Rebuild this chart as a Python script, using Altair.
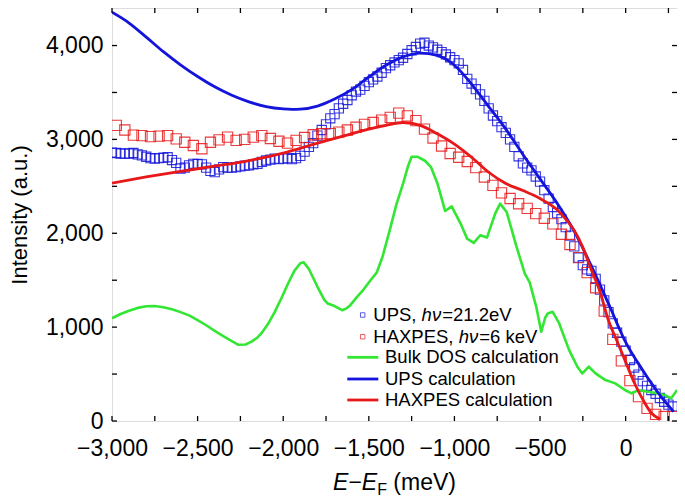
import altair as alt
import pandas as pd

# ---------------- data ----------------
ups_x = [-3000, -2975, -2950, -2925, -2900, -2875, -2850, -2825, -2800, -2775,
         -2750, -2725, -2700, -2675, -2650, -2625, -2600, -2575, -2550, -2525,
         -2500, -2475, -2450, -2425, -2400, -2375, -2350, -2325, -2300, -2275,
         -2250, -2225, -2200, -2175, -2150, -2125, -2100, -2075, -2050, -2025,
         -2000, -1975, -1950, -1925, -1900, -1875, -1850, -1825, -1800, -1775,
         -1750, -1725, -1700, -1675, -1650, -1625, -1600, -1575, -1550, -1525,
         -1500, -1475, -1450, -1425, -1400, -1375, -1350, -1325, -1300, -1275,
         -1250, -1225, -1200, -1175, -1150, -1125, -1100, -1075, -1050, -1025,
         -1000, -975, -950, -925, -900, -875, -850, -825, -800, -775,
         -750, -725, -700, -675, -650, -625, -600, -575, -550, -525,
         -500, -475, -450, -425, -400, -375, -350, -325, -300, -275,
         -250, -225, -200, -175, -150, -125, -100, -75, -50, -25,
         0, 25, 50, 75, 100, 125, 150, 175, 200, 225,
         250, 275]
ups_y = [2860, 2855, 2850, 2848, 2850, 2855, 2840, 2830, 2815, 2800,
         2795, 2800, 2805, 2810, 2780, 2750, 2690, 2700, 2723, 2740,
         2738, 2734, 2700, 2665, 2652, 2680, 2705, 2700, 2699, 2705,
         2713, 2720, 2725, 2734, 2740, 2760, 2775, 2785, 2795, 2790,
         2795, 2800, 2790, 2800, 2825, 2870, 2920, 2960, 3040, 3100,
         3160, 3225, 3270, 3330, 3380, 3420, 3470, 3510, 3530, 3570,
         3610, 3640, 3670, 3710, 3760, 3790, 3820, 3845, 3870, 3910,
         3950, 3985, 4020, 4030, 4000, 3980, 3955, 3930, 3905, 3875,
         3845, 3810, 3740, 3645, 3595, 3535, 3480, 3410, 3330, 3255,
         3195, 3130, 3070, 3000, 2920, 2820, 2745, 2700, 2670, 2605,
         2550, 2460, 2370, 2280, 2215, 2150, 2065, 1975, 1860, 1740,
         1660, 1615, 1600, 1515, 1400, 1285, 1160, 1040, 940, 845,
         750, 650, 570, 495, 425, 375, 330, 290, 245, 205,
         175, 155]

hax_x = [-2975, -2925, -2875, -2825, -2775, -2725, -2675, -2625, -2575, -2525,
         -2475, -2425, -2375, -2325, -2275, -2225, -2175, -2125, -2075, -2025,
         -1975, -1925, -1875, -1825, -1775, -1725, -1675, -1625, -1575, -1525,
         -1475, -1425, -1375, -1325, -1275, -1225, -1175, -1125, -1075, -1025,
         -975, -925, -875, -825, -775, -725, -675, -625, -575, -525,
         -475, -425, -375, -325, -275, -225, -175, -125, -75, -25,
         25, 75, 125, 175, 225, 275]
hax_y = [3150, 3100, 3045, 3040, 3030, 3035, 3040, 3005, 2970, 2935,
         2900, 2970, 2995, 3025, 2990, 3000, 3025, 3040, 3010, 2980,
         2960, 2990, 3020, 3050, 3060, 3062, 3078, 3100, 3130, 3160,
         3180, 3205, 3235, 3280, 3250, 3200, 3110, 3015, 2930, 2850,
         2810, 2765, 2700, 2600, 2510, 2430, 2370, 2315, 2265, 2210,
         2160, 2100, 1990, 1880, 1740, 1580, 1420, 1170, 870, 640,
         430, 260, 135, 70, 48, 46]

dos_x = [-3000, -2950, -2900, -2850, -2800, -2750, -2700, -2650, -2600, -2550,
         -2500, -2450, -2400, -2350, -2300, -2262, -2220, -2185, -2150, -2127,
         -2090, -2050, -2010, -1973, -1935, -1900, -1880, -1850, -1800, -1760,
         -1740, -1700, -1656, -1630, -1608, -1570, -1531, -1490, -1454, -1420,
         -1378, -1340, -1300, -1270, -1250, -1214, -1170, -1137, -1099, -1054,
         -1016, -964, -926, -887, -849, -810, -762, -733, -695, -637,
         -589, -561, -522, -493, -470, -455, -426, -388, -330, -282,
         -253, -215, -176, -118, -61, -4, 35, 74, 131, 189,
         228, 266, 300]
dos_y = [1095, 1140, 1175, 1205, 1222, 1225, 1212, 1190, 1160, 1125,
         1075, 1020, 960, 905, 850, 812, 815, 845, 890, 935,
         1030, 1160, 1310, 1460, 1600, 1680, 1690, 1620, 1430, 1290,
         1252, 1225, 1180, 1200, 1234, 1320, 1400, 1500, 1580, 1750,
         2030, 2300, 2530, 2720, 2815, 2815, 2770, 2705, 2530, 2237,
         2287, 2103, 1943, 1897, 1979, 1954, 2209, 2316, 2227, 1855,
         1571, 1480, 1216, 950, 1100, 1145, 1163, 1039, 755, 578,
         507, 578, 507, 436, 401, 330, 294, 330, 312, 294,
         277, 241, 330]

upscalc_x = [-3000, -2900, -2800, -2700, -2600, -2500, -2400, -2300, -2200, -2100,
             -2000, -1950, -1900, -1800, -1700, -1600, -1500, -1400, -1300, -1200,
             -1100, -1000, -900, -800, -700, -600, -500, -400, -300, -200,
             -100, 0, 100, 200, 280]
upscalc_y = [4355, 4240, 4090, 3935, 3795, 3670, 3560, 3470, 3400, 3350,
             3325, 3320, 3322, 3355, 3430, 3530, 3665, 3790, 3880, 3920,
             3895, 3790, 3590, 3350, 3110, 2840, 2580, 2320, 2020, 1650,
             1250, 840, 540, 275, 100]

haxcalc_x = [-3000, -2800, -2600, -2400, -2200, -2000, -1800, -1600, -1500, -1400,
             -1300, -1200, -1100, -1000, -900, -800, -700, -600, -500, -400,
             -350, -300, -250, -200, -150, -100, -50, 0, 50, 100,
             150, 200]
haxcalc_y = [2535, 2600, 2660, 2715, 2775, 2855, 2960, 3060, 3110, 3150,
             3180, 3150, 3060, 2950, 2810, 2650, 2530, 2455, 2370, 2250,
             2150, 2030, 1850, 1610, 1380, 1070, 850, 630, 410, 230,
             85, 20]

x_tick_values = [-3000, -2750, -2500, -2250, -2000, -1750, -1500, -1250,
                 -1000, -750, -500, -250, 0, 250]
x_label_values = [-3000, -2500, -2000, -1500, -1000, -500, 0]
y_tick_values = [0, 500, 1000, 1500, 2000, 2500, 3000, 3500, 4000]
y_label_values = [0, 1000, 2000, 3000, 4000]

legend_row1 = ["UPS, ", "hν", "=21.2eV"]
legend_row2 = ["HAXPES, ", "hν", "=6 keV"]
legend_lines = ["Bulk DOS calculation", "UPS calculation", "HAXPES calculation"]
x_title_parts = ["E", "−", "E", "F", "(meV)"]
y_title = "Intensity (a.u.)"

# ---------------- style ----------------
W, H = 565, 413
FONT = "Liberation Sans"
BLUE = "#1414dc"
RED = "#e81818"
GREEN = "#33e633"

ARIAL = {'E': .667, '−': .584, 'F': .611, ' ': .278, '(': .333, 'm': .833,
         'e': .556, 'V': .667, ')': .333, 'U': .722, 'P': .667, 'S': .667,
         ',': .278, 'H': .722, 'A': .667, 'X': .667, 'h': .556, 'ν': .5,
         '=': .584, '2': .556, '1': .556, '.': .278, '6': .556, 'k': .5}


def tw(s, size):
    return sum(ARIAL.get(c, .556) for c in s) * size


xs = alt.Scale(domain=[-3000, 300], nice=False, zero=False)
ys = alt.Scale(domain=[0, 4400], nice=False, zero=False)

x_axis = alt.Axis(values=x_label_values, format=",.0f", title=None, ticks=False,
                  domain=False, grid=False, labelFont=FONT, labelFontSize=23,
                  labelColor="black", labelPadding=16, labelFlush=False,
                  labelOverlap=False)
y_axis = alt.Axis(values=y_label_values, format=",.0f", title=y_title, ticks=False,
                  domain=False, grid=False, labelFont=FONT, labelFontSize=23,
                  labelColor="black", labelPadding=9, labelFlush=False,
                  labelOverlap=False, titleFont=FONT, titleFontSize=22,
                  titleFontWeight="normal", titleColor="black", titleAngle=270,
                  titleBaseline="alphabetic", titleX=-86)


def X(field="x"):
    return alt.X(f"{field}:Q", scale=xs, axis=x_axis)


def Y(field="y"):
    return alt.Y(f"{field}:Q", scale=ys, axis=y_axis)


ups_df = pd.DataFrame({"x": ups_x, "y": ups_y})
hax_df = pd.DataFrame({"x": hax_x, "y": hax_y})
dos_df = pd.DataFrame({"x": dos_x, "y": dos_y})
upc_df = pd.DataFrame({"x": upscalc_x, "y": upscalc_y})
hxc_df = pd.DataFrame({"x": haxcalc_x, "y": haxcalc_y})

ups_pts = alt.Chart(ups_df).mark_point(shape="square", filled=False, size=85,
                                       strokeWidth=1.1, color=BLUE, opacity=0.85,
                                       clip=True).encode(x=X(), y=Y())
hax_pts = alt.Chart(hax_df).mark_point(shape="square", filled=False, size=105,
                                       strokeWidth=1.1, color=RED, opacity=0.85,
                                       clip=True).encode(x=X(), y=Y())
dos_line = alt.Chart(dos_df).mark_line(color=GREEN, strokeWidth=2.6, clip=True,
                                       strokeJoin="round").encode(x=X(), y=Y())
upc_line = alt.Chart(upc_df).mark_line(color=BLUE, strokeWidth=2.8, clip=True,
                                       interpolate="monotone").encode(x=X(), y=Y())
hxc_line = alt.Chart(hxc_df).mark_line(color=RED, strokeWidth=2.8, clip=True,
                                       interpolate="monotone").encode(x=X(), y=Y())

xt_df = pd.DataFrame({"x": x_tick_values})
yt_df = pd.DataFrame({"y": y_tick_values})
tick_kw = dict(color="black", strokeWidth=1.3)
xt_bottom = alt.Chart(xt_df).mark_rule(**tick_kw).encode(
    x=X(), y=alt.value(H), y2=alt.value(H - 5))
xt_top = alt.Chart(xt_df).mark_rule(**tick_kw).encode(
    x=X(), y=alt.value(0), y2=alt.value(5))
yt_left = alt.Chart(yt_df).mark_rule(**tick_kw).encode(
    y=Y(), x=alt.value(0), x2=alt.value(5))
yt_right = alt.Chart(yt_df).mark_rule(**tick_kw).encode(
    y=Y(), x=alt.value(W - 5), x2=alt.value(W))

one = pd.DataFrame({"a": [0]})
layers = [ups_pts, hax_pts, dos_line, upc_line, hxc_line,
          xt_bottom, xt_top, yt_left, yt_right]

# ---------- legend (plot-relative pixels) ----------
LFS = 18.5
rows_y = [307, 328.7, 349.3, 371, 392]
sq_x = 250.7
txt_x1 = 261.3
line_x0, line_x1 = 235.3, 266.3
txt_x2 = 273

for ry, parts, col in [(rows_y[0], legend_row1, BLUE), (rows_y[1], legend_row2, RED)]:
    layers.append(alt.Chart(one).mark_point(shape="square", filled=False, size=20,
                                            strokeWidth=1, color=col).encode(
        x=alt.value(sq_x), y=alt.value(ry)))
    cx = txt_x1
    for i, p in enumerate(parts):
        layers.append(alt.Chart(one).mark_text(
            font=FONT, fontSize=LFS, align="left", baseline="middle",
            fontStyle="italic" if i == 1 else "normal", color="black").encode(
            x=alt.value(cx), y=alt.value(ry), text=alt.value(p.strip())))
        cx += tw(p, LFS) + (1 if i == 1 else 0)

for ry, lab, col in zip(rows_y[2:], legend_lines, [GREEN, BLUE, RED]):
    layers.append(alt.Chart(one).mark_rule(color=col, strokeWidth=2.8).encode(
        x=alt.value(line_x0), x2=alt.value(line_x1), y=alt.value(ry)))
    layers.append(alt.Chart(one).mark_text(
        font=FONT, fontSize=LFS, align="left", baseline="middle",
        color="black").encode(x=alt.value(txt_x2), y=alt.value(ry),
                              text=alt.value(lab)))

# ---------- x-axis title with italic E and subscript F ----------
TFS = 23
SFS = 16
base_y = 482
sizes = [TFS, TFS, TFS, SFS, TFS]
styles = ["italic", "normal", "italic", "normal", "normal"]
offs = [0, 0, 0, 5, 0]
gaps = [0, 0, 0, 0, tw(" ", TFS)]
total = sum(tw(p, s) for p, s in zip(x_title_parts, sizes)) + sum(gaps)
cx = W / 2 - total / 2
for p, s, st, o, g in zip(x_title_parts, sizes, styles, offs, gaps):
    cx += g
    layers.append(alt.Chart(one).mark_text(
        font=FONT, fontSize=s, fontStyle=st, align="left",
        baseline="alphabetic", color="black").encode(
        x=alt.value(cx), y=alt.value(base_y + o), text=alt.value(p)))
    cx += tw(p, s)

chart = alt.layer(*layers).properties(
    width=W, height=H,
    autosize=alt.AutoSizeParams(type="none"),
    padding={"left": 104, "top": 0, "right": 0, "bottom": 81},
).configure_view(stroke="black", strokeWidth=1.6).configure(background="white")

chart.save("out.html", embed_options={"renderer": "svg", "actions": False})
